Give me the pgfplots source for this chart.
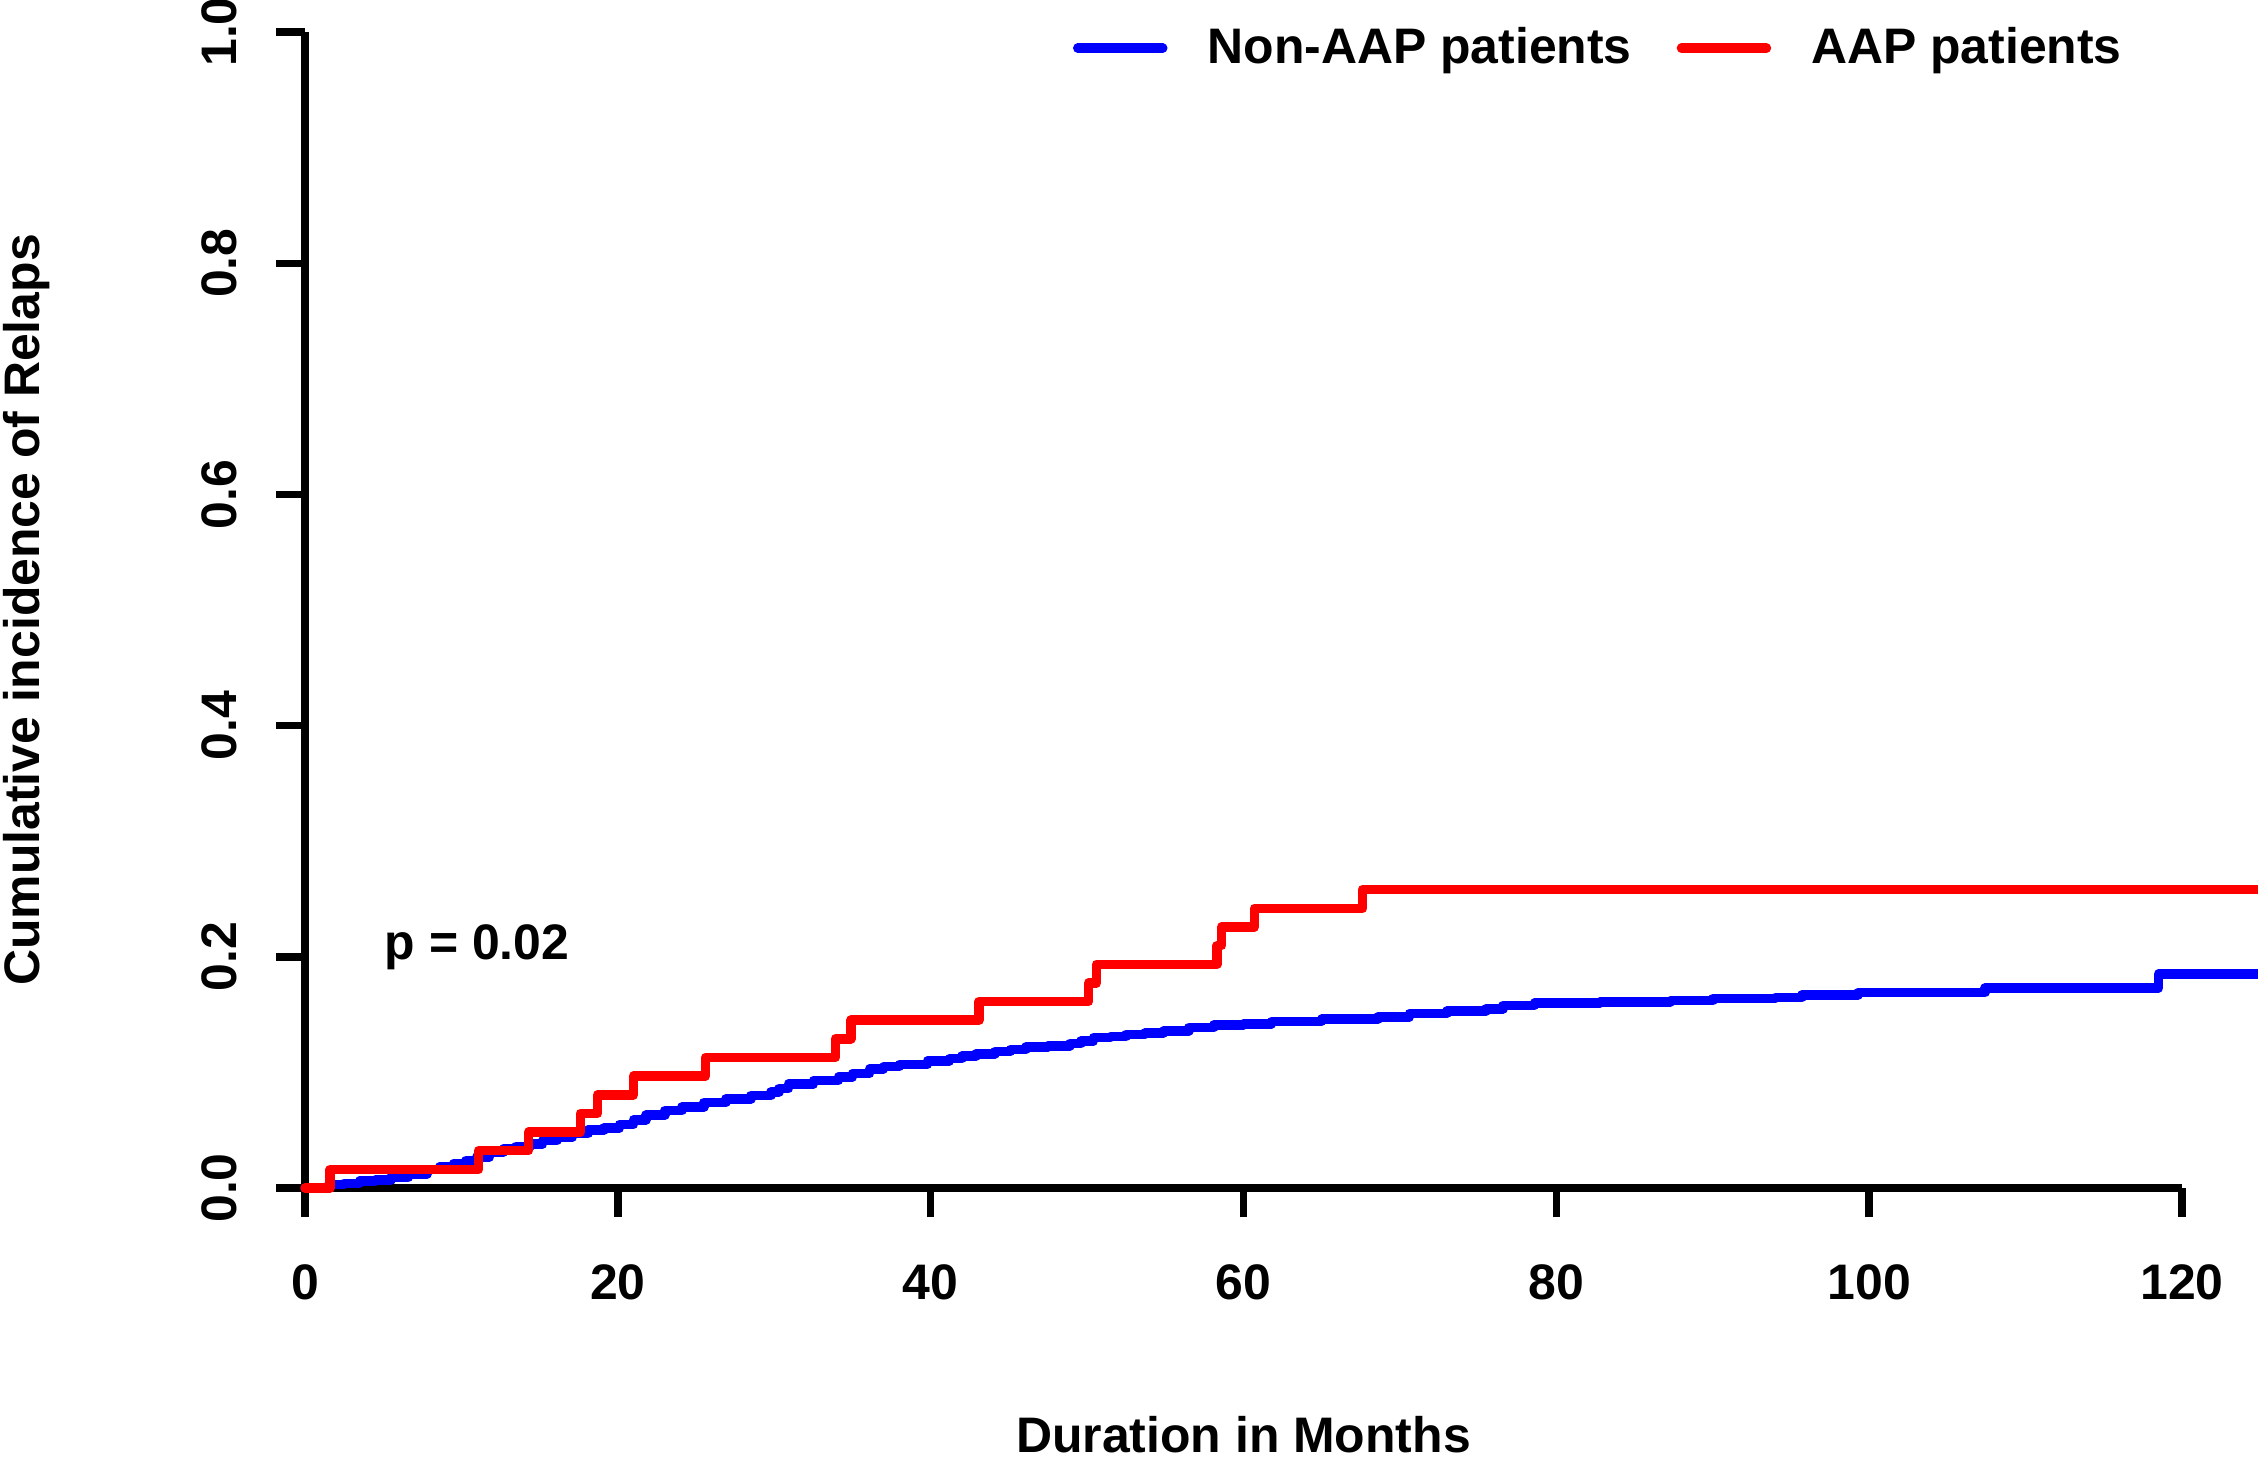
\documentclass[border=0pt]{standalone}
\usepackage{fontspec}
\setmainfont{Liberation Sans}
\usepackage{pgfplots}
\pgfplotsset{compat=1.18}
\pgfplotstableread{
x y
0 0
1.5 0.003
2.5 0.004
3.5 0.006
4.5 0.007
5.5 0.009
6.6 0.012
7.8 0.016
8.6 0.018
9.5 0.021
10.3 0.024
11.0 0.027
11.8 0.031
12.7 0.034
13.5 0.036
14.4 0.038
15.2 0.041
16.1 0.044
17.1 0.047
18.1 0.050
19.1 0.052
20.1 0.055
21.0 0.059
21.8 0.063
23.0 0.067
24.1 0.070
25.5 0.074
26.9 0.077
28.5 0.080
29.8 0.083
30.3 0.086
30.9 0.090
32.5 0.093
34.1 0.096
35.0 0.099
36.1 0.103
37.0 0.105
38.0 0.107
39.8 0.110
41.2 0.112
42.0 0.114
42.9 0.116
44.1 0.118
45.1 0.120
46.1 0.122
47.5 0.123
48.9 0.125
49.6 0.127
50.4 0.130
51.5 0.131
52.5 0.133
53.7 0.134
54.9 0.136
56.5 0.139
58.1 0.141
60.0 0.142
61.8 0.144
65.0 0.146
68.6 0.148
70.6 0.151
73.0 0.153
75.5 0.155
76.6 0.158
78.6 0.160
82.8 0.161
87.3 0.162
90.0 0.164
94.0 0.165
95.7 0.167
99.3 0.169
107.4 0.173
118.5 0.185
125 0.185
}\nonaap
\pgfplotstableread{
x y
0 0
1.6 0.0161
11.1 0.0323
14.3 0.0484
17.6 0.0645
18.7 0.0806
21.0 0.0968
25.6 0.1129
33.9 0.1290
34.9 0.1452
43.1 0.1613
50.1 0.1774
50.6 0.1935
58.3 0.2097
58.6 0.2258
60.7 0.2419
67.6 0.2581
125 0.2581
}\aap
\begin{document}
\begin{tikzpicture}[font=\fontsize{14.2}{17}\selectfont\bfseries]
\begin{axis}[
  at={(0,0)}, anchor=south west,
  scale only axis, width=18.77cm, height=11.56cm,
  xmin=0, xmax=120, ymin=0, ymax=1,
  clip=false,
  axis lines*=left,
  axis line style={line width=2.1pt, black},
  tick align=outside,
  major tick length=0.29cm,
  tick style={line width=2.1pt, black},
  xtick={0,20,40,60,80,100,120},
  xticklabels={0,20,40,60,80,100,120},
  ytick={0,0.2,0.4,0.6,0.8,1.0},
  yticklabels={0.0,0.2,0.4,0.6,0.8,1.0},
  /pgf/number format/assume math mode=true,
  xticklabel style={anchor=base, inner sep=0pt},
  yticklabel style={rotate=90, anchor=base, inner sep=0pt},
  xticklabel shift=0.82cm,
  yticklabel shift=0.40cm,
  every axis x label/.style={at={(axis description cs:0.5,-0.2284)}, anchor=base, inner sep=0pt},
  every axis y label/.style={at={(axis description cs:-0.1417,0.5)}, rotate=90, anchor=base, inner sep=0pt},
  xlabel={Duration in Months},
  ylabel={Cumulative incidence of Relaps},
  legend columns=2,
  legend style={at={(axis cs:49.1,0.986)}, anchor=west, draw=none, fill=none,
    inner sep=0pt, outer sep=0pt, nodes={inner sep=0pt},
    /tikz/every odd column/.append style={column sep=0.40cm},
    /tikz/every even column/.append style={column sep=0.45cm}},
  legend image code/.code={\draw[#1, line width=2.7pt, line cap=round] (0cm,0cm) -- (0.85cm,0cm);},
]
\addplot[blue, line width=2.7pt, line join=round, line cap=round, const plot mark left] table[x=x, y=y] {\nonaap};
\addlegendentry{Non-AAP patients}
\addplot[red, line width=2.7pt, line join=round, line cap=round, const plot mark left] table[x=x, y=y] {\aap};
\addlegendentry{AAP patients}
\node[anchor=base, inner sep=0pt] at (axis cs:11.0,0.198) {p = 0.02};
\end{axis}
\pgfresetboundingbox
\useasboundingbox (-3.05cm,-2.75cm) rectangle (19.53cm,11.88cm);
\end{tikzpicture}
\end{document}
